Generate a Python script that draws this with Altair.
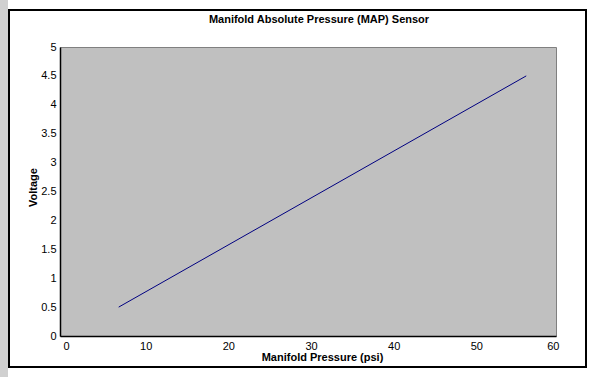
import altair as alt
import pandas as pd

# data
pressure = [7.1, 56.4]
voltage = [0.5, 4.5]
x_ticks = [0, 10, 20, 30, 40, 50, 60]
y_ticks = [0, 0.5, 1, 1.5, 2, 2.5, 3, 3.5, 4, 4.5, 5]
title_text = "Manifold Absolute Pressure (MAP) Sensor"
x_title = "Manifold Pressure (psi)"
y_title = "Voltage"

FONT = "Liberation Sans"

df = pd.DataFrame({"pressure": pressure, "voltage": voltage})
one = pd.DataFrame({"k": [0]})

xs = alt.Scale(domain=[0, 60], nice=False, zero=False)
ys = alt.Scale(domain=[0, 5], nice=False, zero=False)

strip = alt.Chart(one).mark_rect(color="#d0d0d0").encode(
    x=alt.value(-60), x2=alt.value(-52), y=alt.value(-47), y2=alt.value(330)
)

frame = alt.Chart(one).mark_rect(filled=False, stroke="black", strokeWidth=2).encode(
    x=alt.value(-51), x2=alt.value(526), y=alt.value(-37), y2=alt.value(320)
)

title = alt.Chart(one).mark_text(
    text=title_text, font=FONT, fontSize=11, fontWeight="bold",
    align="center", baseline="alphabetic", color="black"
).encode(x=alt.value(259), y=alt.value(-24))

line = alt.Chart(df).mark_line(color="#000080", strokeWidth=1).encode(
    x=alt.X("pressure:Q", scale=xs, axis=alt.Axis(
        values=x_ticks, title=x_title, titleX=262, titleY=24,
        titleBaseline="alphabetic", titleAlign="center",
        labelPadding=4, labelOffset=3, format="d")),
    y=alt.Y("voltage:Q", scale=ys, axis=alt.Axis(
        values=y_ticks, title=y_title, titleX=-24, titleY=140,
        titleBaseline="alphabetic", titleAlign="center", titleAngle=270,
        labelPadding=4, format="~g")),
)

chart = alt.layer(strip, frame, line, title).properties(
    width=496, height=289,
    padding={"left": 60, "top": 47, "right": 41, "bottom": 41},
    autosize=alt.AutoSizeParams(type="none"),
).configure(background="white").configure_view(
    fill="#c0c0c0", stroke="#808080", strokeWidth=1
).configure_axis(
    grid=False, ticks=False, tickSize=0,
    domainColor="black", domainWidth=1.5,
    labelFont=FONT, labelFontSize=11, labelColor="black",
    titleFont=FONT, titleFontSize=11, titleFontWeight="bold", titleColor="black",
)

chart.save("out.html", embed_options={"renderer": "svg", "actions": False})
